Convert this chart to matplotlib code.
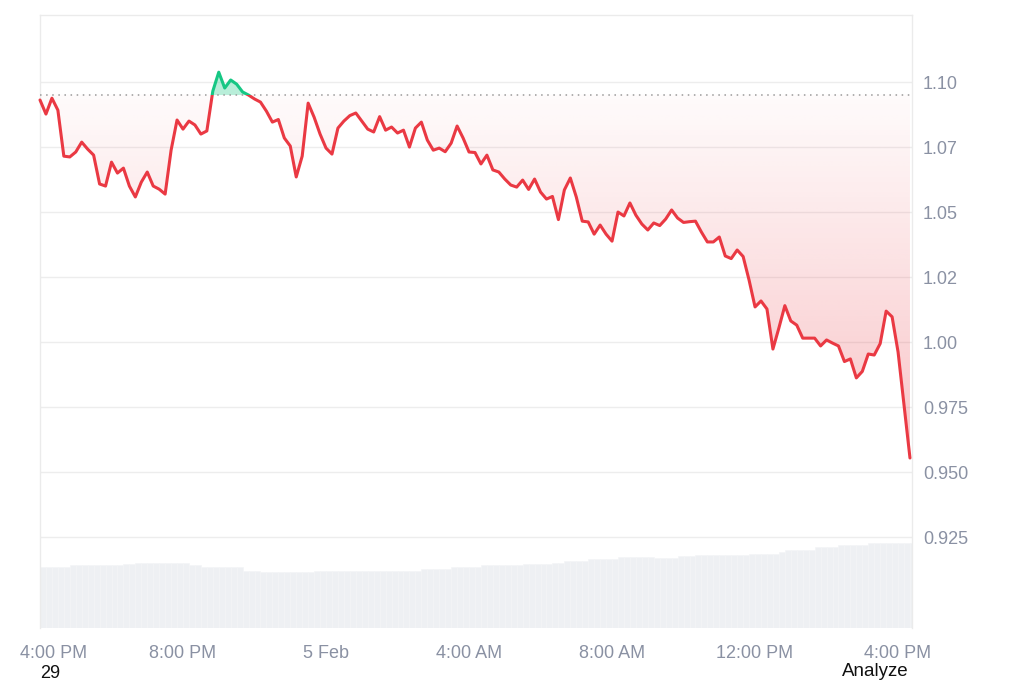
import numpy as np
import pandas as pd
import matplotlib
matplotlib.use('Agg')
import matplotlib.pyplot as plt
import matplotlib.dates as mdates
from matplotlib.patches import Rectangle
from matplotlib.path import Path
from matplotlib.transforms import ScaledTranslation
from matplotlib.colors import to_rgb

plt.rcParams['font.family'] = ['Liberation Sans', 'DejaVu Sans']

# price every 10 minutes starting 4 Feb 16:00
start = '2025-02-04 16:00'
price = [
    1.0931, 1.0877, 1.0938, 1.0892, 1.0715, 1.0712, 1.0731, 1.0769, 1.0742, 1.0719,
    1.0608, 1.0600, 1.0692, 1.0650, 1.0669, 1.0600, 1.0558, 1.0615, 1.0654, 1.0600,
    1.0588, 1.0569, 1.0738, 1.0854, 1.0819, 1.0850, 1.0835, 1.0800, 1.0812, 1.0965,
    1.1038, 1.0977, 1.1008, 1.0992, 1.0962, 1.0950, 1.0935, 1.0923, 1.0888, 1.0846,
    1.0856, 1.0785, 1.0754, 1.0635, 1.0715, 1.0919, 1.0865, 1.0800, 1.0746, 1.0723,
    1.0823, 1.0850, 1.0871, 1.0881, 1.0850, 1.0819, 1.0808, 1.0867, 1.0815, 1.0827,
    1.0804, 1.0815, 1.0750, 1.0823, 1.0846, 1.0777, 1.0738, 1.0746, 1.0732, 1.0765,
    1.0831, 1.0785, 1.0731, 1.0729, 1.0685, 1.0719, 1.0662, 1.0654, 1.0627, 1.0604,
    1.0596, 1.0623, 1.0587, 1.0627, 1.0577, 1.0550, 1.0560, 1.0471, 1.0585, 1.0631,
    1.0558, 1.0465, 1.0462, 1.0415, 1.0450, 1.0415, 1.0388, 1.0500, 1.0485, 1.0535,
    1.0488, 1.0454, 1.0431, 1.0458, 1.0448, 1.0473, 1.0508, 1.0477, 1.0460, 1.0463,
    1.0465, 1.0423, 1.0385, 1.0385, 1.0404, 1.0331, 1.0321, 1.0354, 1.0329, 1.0238,
    1.0135, 1.0158, 1.0127, 0.9973, 1.0054, 1.0140, 1.0081, 1.0065, 1.0015, 1.0015,
    1.0015, 0.9985, 1.0008, 0.9996, 0.9985, 0.9925, 0.9935, 0.9862, 0.9887, 0.9954,
    0.9950, 0.9994, 1.0119, 1.0097, 0.9962, 0.9758, 0.9554,
]
volume = ([6.1] * 5 + [6.3] * 9 + [6.4] * 2 + [6.5] * 9 + [6.3] * 2 + [6.1] * 7
          + [5.7] * 3 + [5.6] * 9 + [5.7] * 18 + [5.9] * 5 + [6.1] * 5 + [6.3] * 7
          + [6.4] * 5 + [6.5] * 2 + [6.7] * 4 + [6.9] * 5 + [7.1] * 6 + [7.0] * 4
          + [7.2] * 3 + [7.3] * 9 + [7.4] * 5 + [7.6] * 1 + [7.8] * 5 + [8.1] * 4
          + [8.3] * 5 + [8.5] * 8)
ref_price = 1.0952

ytick_values = [0.925, 0.950, 0.975, 1.00, 1.025, 1.05, 1.075, 1.10]
ytick_labels = ['0.925', '0.950', '0.975', '1.00', '1.02', '1.05', '1.07', '1.10']
xtick_times = ['2025-02-04 16:00', '2025-02-04 20:00', '2025-02-05 00:00', '2025-02-05 04:00',
               '2025-02-05 08:00', '2025-02-05 12:00', '2025-02-05 16:00']
xtick_labels = ['4:00 PM', '8:00 PM', '5 Feb', '4:00 AM', '8:00 AM', '12:00 PM', '4:00 PM']

RED = '#ea3943'
GREEN = '#16c784'
GRAY_TXT = '#8a91a3'
GRID = '#ededed'

price = np.array(price)
times = pd.date_range(start, periods=len(price), freq='10min')
t = mdates.date2num(times)
step = t[1] - t[0]
x0 = t[0]
x1 = t[0] + 24.39 / 24
y_lo, y_hi = 0.890, 1.1258

fig = plt.figure(figsize=(10.24, 6.83), dpi=100)
rect = [40 / 1024, 55 / 683, 872 / 1024, 613 / 683]
ax_vol = fig.add_axes(rect)
ax = fig.add_axes(rect, sharex=ax_vol)
ax.patch.set_alpha(0)

# volume bars
ax_vol.bar(t, volume, width=step, align='edge', color='#eef0f3',
           edgecolor='#f4f5f7', lw=0.4)
ax_vol.set_ylim(0, 61.3)
ax_vol.set_axis_off()

# grid and frame
ax.set_ylim(y_lo, y_hi)
ax.set_xlim(x0, x1)
ax.set_yticks(ytick_values)
ax.set_yticklabels(ytick_labels)
ax.yaxis.tick_right()
ax.grid(axis='y', color=GRID, lw=1)
ax.set_axisbelow(True)
ax.tick_params(axis='y', length=0, pad=8, labelsize=13, labelcolor=GRAY_TXT)
ax.set_xticks(mdates.date2num(pd.to_datetime(xtick_times)))
ax.set_xticklabels(xtick_labels)
ax.tick_params(axis='x', length=0, pad=12, labelsize=13, labelcolor=GRAY_TXT)
first = ax.get_xticklabels()[0]
first.set_transform(first.get_transform() + ScaledTranslation(0.14, 0, fig.dpi_scale_trans))
ax.spines['bottom'].set_visible(False)
for s in ['left', 'top', 'right']:
    ax.spines[s].set_color('#ebebeb')
    ax.spines[s].set_linewidth(1)

# red gradient fill below the reference line
red_rgb = to_rgb(RED)
ny = 300
grad = np.zeros((ny, 2, 4))
grad[:, :, 0] = red_rgb[0]
grad[:, :, 1] = red_rgb[1]
grad[:, :, 2] = red_rgb[2]
grad[:, :, 3] = np.linspace(0.30, 0.02, ny)[:, None]
fill_lo = price.min() - 0.002
im = ax.imshow(grad, extent=[x0, x1, fill_lo, ref_price], origin='lower',
               aspect='auto', interpolation='bilinear', zorder=1)
poly = ax.fill_between(t, price, ref_price, where=price <= ref_price, interpolate=True,
                       color='none', lw=0)
clip = Path.make_compound_path(*poly.get_paths())
im.set_clip_path(clip, ax.transData)
ax.set_xlim(x0, x1)
ax.set_ylim(y_lo, y_hi)

# green fill above the reference line
ax.fill_between(t, price, ref_price, where=price >= ref_price, interpolate=True,
                color=GREEN, alpha=0.3, lw=0, zorder=2)

# reference dotted line
ax.axhline(ref_price, color='#9a9a9a', lw=1.1, ls=(0, (1, 3)), zorder=3)

# price line, red below / green above the reference
line_r, = ax.plot(t, price, color=RED, lw=2.2, solid_joinstyle='round',
                  solid_capstyle='round', zorder=4)
line_r.set_clip_path(Rectangle((x0 - 1, y_lo - 1), 3, ref_price - y_lo + 1,
                               transform=ax.transData))
line_g, = ax.plot(t, price, color=GREEN, lw=2.2, solid_joinstyle='round',
                  solid_capstyle='round', zorder=4)
line_g.set_clip_path(Rectangle((x0 - 1, ref_price), 3, 1, transform=ax.transData))

# stray overlay texts
fig.text(40 / 1024, 1 / 683, '29', va='bottom', ha='left', fontsize=13, color='#111111')
fig.text(842 / 1024, 1 - 663 / 683, 'Analyze', va='top', ha='left', fontsize=13.5,
         color='#111111')

fig.savefig('out.png', dpi=100)
